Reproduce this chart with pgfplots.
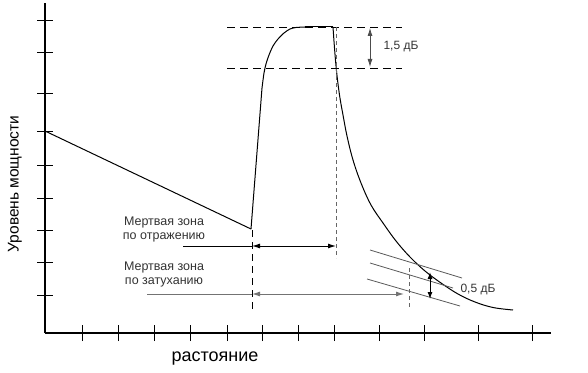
\documentclass[border=0pt]{standalone}
\usepackage{pgfplots}
\pgfplotsset{compat=1.18}
\usepackage{fontspec}
\setmainfont{Liberation Sans}
\usetikzlibrary{arrows.meta}
\begin{document}
\begin{tikzpicture}
\begin{axis}[
  scale only axis,
  width=506pt, height=330pt,
  xmin=45, xmax=551, ymin=0, ymax=330,
  axis lines=left,
  axis line style={-, line width=2pt},
  xtick={82,118,154,190,227,262,298,334,379,424,478,532},
  ytick={38,71,103,135,168,202,240,281,313},
  xticklabels={}, yticklabels={},
  tick align=center,
  major tick length=16pt,
  tick style={line width=0.9pt, black},
  clip=false,
]
% bounding box
\path (axis cs:0,-39) (axis cs:588,333);
% main curve
\addplot[black, line width=1pt] coordinates {(45,202) (251,104)};
\addplot[black, line width=1pt] coordinates {(251,104) (262,245)};
\addplot[black, line width=1pt, smooth, tension=0.5] coordinates {
 (262,245) (264,260) (266,269) (269,278) (273,287) (278,294) (284,300) (290,304) (296,305.5) (305,306)};
\addplot[black, line width=1pt] coordinates {(305,306) (333,306)};
\addplot[black, line width=1pt, smooth, tension=0.6] coordinates {
 (333,306) (334.5,285) (336.5,262) (339.5,238) (343,218) (347,197) (353,173) (361,150) (371,128) (383,110) (396,92) (410,76) (425,62) (441,50) (458,39) (475,31) (493,25.5) (513,23)};
% dashed horizontal levels
\addplot[black, line width=0.9pt, dash pattern=on 8pt off 5pt] coordinates {(227,306) (402,306)};
\addplot[black, line width=0.9pt, dash pattern=on 8pt off 5pt] coordinates {(227,265) (402,265)};
% 1,5 dB arrow
\addplot[black!70, line width=0.8pt, {Latex[length=8pt,width=5pt]}-{Latex[length=8pt,width=5pt]}] coordinates {(370,305) (370,266)};
\node[anchor=west, text=black!80, font=\fontsize{12}{14}\selectfont] at (axis cs:380,286) {1,5 дБ};
% vertical dashed lines
\addplot[black, line width=0.9pt, dash pattern=on 7pt off 5pt] coordinates {(252,103) (252,23)};
\addplot[black!60, line width=0.8pt, dash pattern=on 4pt off 3pt] coordinates {(336,306) (336,75)};
\addplot[black!60, line width=0.8pt, dash pattern=on 4pt off 3pt] coordinates {(409,65) (409,26)};
% reflection dead zone
\addplot[black, line width=1pt] coordinates {(183,87) (252,87)};
\addplot[black, line width=1pt, {Latex[length=8pt,width=5pt]}-{Latex[length=8pt,width=5pt]}] coordinates {(252,87) (336,87)};
% attenuation dead zone
\addplot[black!55, line width=1pt] coordinates {(147,39) (252,39)};
\addplot[black!55, line width=1pt, {Latex[length=8pt,width=5pt]}-{Latex[length=8pt,width=5pt]}] coordinates {(252,39) (404,39)};
% slanted lines
\addplot[black!65, line width=0.8pt] coordinates {(370,83) (462,55)};
\addplot[black!65, line width=0.8pt] coordinates {(370,70) (453,45)};
\addplot[black!65, line width=0.8pt] coordinates {(367,54) (460,27)};
% 0,5 dB arrow
\addplot[black, line width=1pt, {Latex[length=7pt,width=5pt]}-{Latex[length=7pt,width=5pt]}] coordinates {(430,61) (430,34)};
\node[anchor=west, text=black!80, font=\fontsize{12}{14}\selectfont] at (axis cs:457,43) {0,5 дБ};
% texts
\node[text=black!80, font=\fontsize{12.5}{15}\selectfont, align=center] at (axis cs:164,104) {Мертвая зона\\[-1pt]по отражению};
\node[text=black!80, font=\fontsize{12.5}{15}\selectfont, align=center] at (axis cs:164,59) {Мертвая зона\\[-1pt]по затуханию};
\node[font=\fontsize{18}{20}\selectfont] at (axis cs:215,-26) {растояние};
\node[font=\fontsize{15.5}{18}\selectfont, rotate=90] at (axis cs:15,149) {Уровень мощности};
\end{axis}
\end{tikzpicture}
\end{document}
